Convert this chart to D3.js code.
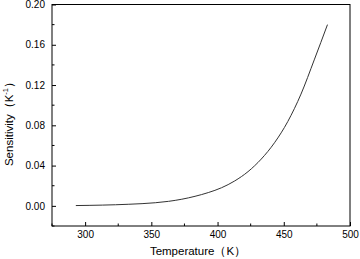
<!DOCTYPE html>
<html>
<head>
<meta charset="utf-8">
<script src="https://cdn.jsdelivr.net/npm/d3@7"></script>
<style>
  body { margin: 0; background: #fff; }
  text { font-family: "Liberation Sans", Arial, sans-serif; fill: #000; }
</style>
</head>
<body>
<script>
// data
const temps = [293, 303, 313, 323, 333, 343, 353, 363, 373, 383, 393, 403, 413, 423, 433, 443, 453, 463, 473, 483];
const sens = [0.0003, 0.0005, 0.00075, 0.0011, 0.0016, 0.0022, 0.0031, 0.0045, 0.0066, 0.0095, 0.0132, 0.0180, 0.0248, 0.0340, 0.0465, 0.0627, 0.0837, 0.1110, 0.1450, 0.1800];
const xTicks = [300, 350, 400, 450, 500];
const yTicks = [0.00, 0.04, 0.08, 0.12, 0.16, 0.20];

const w = 360, h = 259;
const m = { left: 52, right: 10, top: 4.5, bottom: 33 };

const svg = d3.select("body").append("svg").attr("width", w).attr("height", h);

const x = d3.scaleLinear().domain([275, 500]).range([m.left, w - m.right]);
const y = d3.scaleLinear().domain([-0.02, 0.20]).range([h - m.bottom, m.top]);

const g = svg.append("g");

// minor ticks
const xMinor = d3.range(275, 500, 25).filter(v => !xTicks.includes(v));
const yMinor = d3.range(-0.02, 0.2, 0.02).map(v => +v.toFixed(2)).filter(v => !yTicks.includes(v));

// x axis
const xAxis = g.append("g")
  .attr("transform", `translate(0,${h - m.bottom})`)
  .call(d3.axisBottom(x).tickValues(xTicks).tickSize(-4).tickPadding(5).tickSizeOuter(0));
xAxis.append("g").selectAll("line").data(xMinor).enter().append("line")
  .attr("x1", d => x(d)).attr("x2", d => x(d)).attr("y1", 0).attr("y2", -2.5)
  .attr("stroke", "#000");

// y axis
const yAxis = g.append("g")
  .attr("transform", `translate(${m.left},0)`)
  .call(d3.axisLeft(y).tickValues(yTicks).tickFormat(d3.format(".2f")).tickSize(-4).tickPadding(7).tickSizeOuter(0));
yAxis.append("g").selectAll("line").data(yMinor).enter().append("line")
  .attr("y1", d => y(d)).attr("y2", d => y(d)).attr("x1", 0).attr("x2", 2.5)
  .attr("stroke", "#000");

svg.selectAll(".tick text").attr("font-size", 10).style("font-family", "'Liberation Sans', Arial, sans-serif");
svg.selectAll(".domain").remove();

// frame
svg.append("rect")
  .attr("x", m.left).attr("y", m.top)
  .attr("width", w - m.left - m.right).attr("height", h - m.top - m.bottom)
  .attr("fill", "none").attr("stroke", "#000").attr("stroke-width", 1);

// curve
const line = d3.line().x((d, i) => x(temps[i])).y(d => y(d)).curve(d3.curveMonotoneX);
svg.append("path")
  .datum(sens)
  .attr("d", line)
  .attr("fill", "none")
  .attr("stroke", "#333")
  .attr("stroke-width", 1);

// axis labels
svg.append("text")
  .attr("x", 198)
  .attr("y", 254.5)
  .attr("text-anchor", "middle")
  .attr("font-size", 11.5)
  .text("Temperature（K）");

const yl = svg.append("text")
  .attr("transform", `translate(13,121) rotate(-90)`)
  .attr("text-anchor", "middle")
  .attr("font-size", 11.5);
yl.append("tspan").text("Sensitivity（K");
yl.append("tspan").attr("font-size", 7.5).attr("dy", -5).text("-1");
yl.append("tspan").attr("dy", 5).text("）");
</script>
</body>
</html>
